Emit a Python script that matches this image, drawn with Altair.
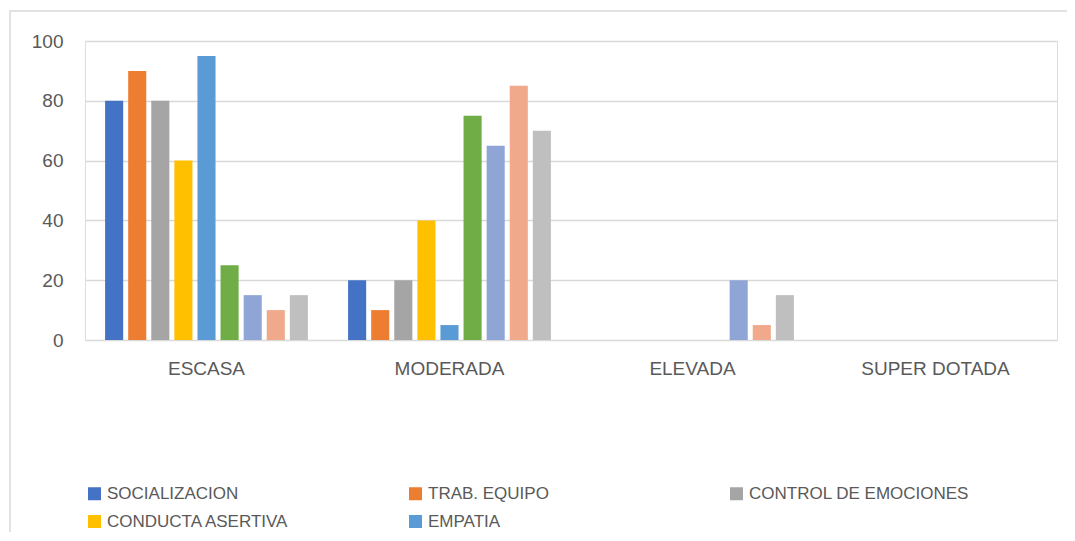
import altair as alt
import pandas as pd

categories = ["ESCASA", "MODERADA", "ELEVADA", "SUPER DOTADA"]
series_names = ["SOCIALIZACION", "TRAB. EQUIPO", "CONTROL DE EMOCIONES",
                "CONDUCTA ASERTIVA", "EMPATIA", "SERIE 6", "SERIE 7", "SERIE 8", "SERIE 9"]
series_colors = ["#4472C4", "#ED7D31", "#A5A5A5", "#FFC000", "#5B9BD5",
                 "#70AD47", "#8FA5D6", "#F0A98A", "#BFBFBF"]
socializacion = [80, 20, 0, 0]
trab_equipo = [90, 10, 0, 0]
control_emociones = [80, 20, 0, 0]
conducta_asertiva = [60, 40, 0, 0]
empatia = [95, 5, 0, 0]
serie6 = [25, 75, 0, 0]
serie7 = [15, 65, 20, 0]
serie8 = [10, 85, 5, 0]
serie9 = [15, 70, 15, 0]
y_ticks = [0, 20, 40, 60, 80, 100]
legend_visible = series_names[:5]

all_values = [socializacion, trab_equipo, control_emociones, conducta_asertiva,
              empatia, serie6, serie7, serie8, serie9]
rows = []
for name, vals in zip(series_names, all_values):
    for cat, v in zip(categories, vals):
        rows.append({"categoria": cat, "serie": name, "valor": v})
df = pd.DataFrame(rows)

FONT = "Liberation Sans"
TXT = "#595959"

bars = alt.Chart(df).mark_bar().encode(
    x=alt.X("categoria:N", sort=categories,
            scale=alt.Scale(paddingInner=0, paddingOuter=0),
            axis=alt.Axis(title=None, labelAngle=0, domain=False, ticks=False,
                          labelFont=FONT, labelFontSize=19, labelColor=TXT,
                          labelPadding=19)),
    xOffset=alt.XOffset("serie:N", sort=series_names,
                        scale=alt.Scale(paddingInner=0.217, paddingOuter=0.87)),
    y=alt.Y("valor:Q", scale=alt.Scale(domain=[0, 100], nice=False),
            axis=alt.Axis(title=None, values=y_ticks, domain=False, ticks=False,
                          grid=True, gridColor="#D9D9D9", gridWidth=1.4,
                          labelFont=FONT, labelFontSize=19, labelColor=TXT,
                          labelPadding=22)),
    color=alt.Color("serie:N", sort=series_names,
                    scale=alt.Scale(domain=series_names, range=series_colors),
                    legend=alt.Legend(title=None, values=legend_visible,
                                      orient="none", legendX=1, legendY=444,
                                      direction="horizontal", columns=3,
                                      gridAlign="all", columnPadding=79,
                                      rowPadding=10, symbolType="square",
                                      symbolSize=169, symbolStrokeWidth=0,
                                      symbolOffset=0, labelOffset=4,
                                      labelFont=FONT, labelFontSize=17,
                                      labelColor=TXT, labelLimit=400,
                                      padding=0)),
)

border = alt.Chart(pd.DataFrame({"a": [0]})).mark_rect(
    fill=None, stroke="#D9D9D9", strokeWidth=1.5
).encode(
    x=alt.value(-75), x2=alt.value(1000), y=alt.value(-30), y2=alt.value(700)
)

chart = alt.layer(border, bars).properties(
    width=972, height=299,
    autosize=alt.AutoSizeParams(type="none"),
    padding={"left": 77, "top": 33, "right": 10, "bottom": 192},
).configure_view(strokeWidth=0, stroke="transparent").configure(background="white")

chart.save("out.html", embed_options={"renderer": "svg", "actions": False})
